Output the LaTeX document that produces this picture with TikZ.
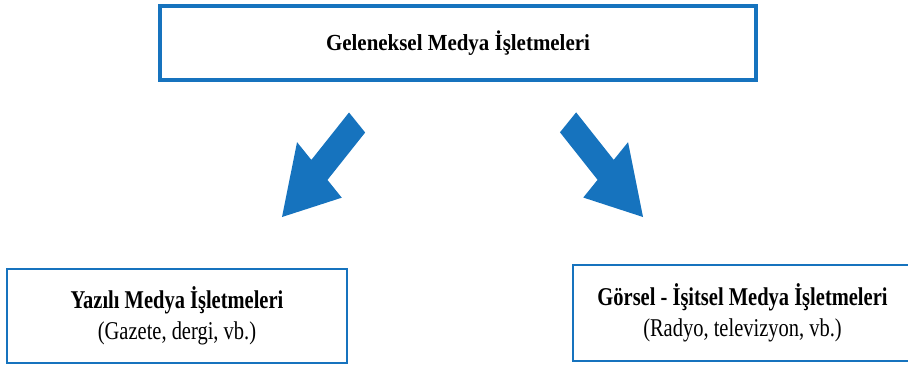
\documentclass[tikz,border=0pt]{standalone}
\usepackage{fontspec}
\setmainfont{Liberation Serif}[FakeStretch=0.8]
\newfontfamily\widefont{Liberation Serif}[FakeStretch=0.91]
\usetikzlibrary{shapes.arrows}
\definecolor{medyablue}{HTML}{1673BE}

\begin{document}
\begin{tikzpicture}[%
        x=0.5pt, y=-0.5pt,
        every node/.style={rectangle, align=center, inner sep=1pt},
        mainbox/.style={draw=medyablue, line width=2pt, minimum width=298pt, minimum height=37pt, font=\widefont\bfseries\fontsize{11.5}{13.8}\selectfont},
        subbox/.style={draw=medyablue, line width=1.2pt, minimum width=170pt, minimum height=47pt, font=\fontsize{12.8}{15.3}\selectfont},
        bigarrow/.style={single arrow, fill=medyablue, inner sep=0pt, inner ysep=6.9pt, outer sep=0pt, minimum height=66.6pt, single arrow head extend=12.6pt, single arrow tip angle=61.4, anchor=tip, xscale=0.8}
      ]
      \clip (0,0) rectangle (908,365);
      \node [mainbox] (geleneksel) at (458,43) {Geleneksel Medya İşletmeleri};
      \node [subbox] (yazili) at (177,316) {\textbf{Yazılı Medya İşletmeleri}\\(Gazete, dergi, vb.)};
      \node [subbox, minimum width=169.5pt, minimum height=48pt] (gorsel) at (742.5,313) {\textbf{Görsel - İşitsel Medya İşletmeleri}\\(Radyo, televizyon, vb.)};
      \node [bigarrow, rotate=225.2] (toyazili) at (282,217) {};
      \node [bigarrow, rotate=314.7] (togorsel) at (643,217) {};
    \end{tikzpicture}
\end{document}
